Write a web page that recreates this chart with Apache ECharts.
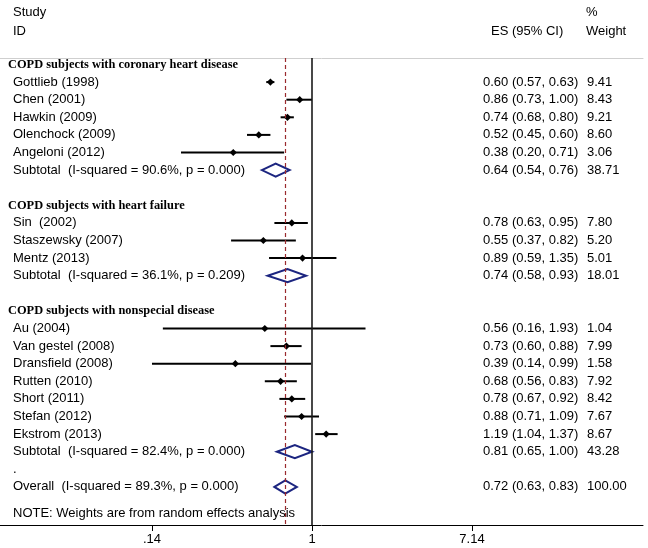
<!DOCTYPE html>
<html><head><meta charset="utf-8">
<script src="https://cdn.jsdelivr.net/npm/echarts@6/dist/echarts.min.js"></script>
<style>html,body{margin:0;padding:0;background:#fff}#c{width:648px;height:548px}</style>
</head><body><div id="c"></div><script>
// ---------- data ----------
const rowLabels = [
  'COPD subjects with coronary heart disease',
  'Gottlieb (1998)', 'Chen (2001)', 'Hawkin (2009)', 'Olenchock (2009)', 'Angeloni (2012)',
  'Subtotal  (I-squared = 90.6%, p = 0.000)',
  'COPD subjects with heart failure',
  'Sin  (2002)', 'Staszewsky (2007)', 'Mentz (2013)',
  'Subtotal  (I-squared = 36.1%, p = 0.209)',
  'COPD subjects with nonspecial disease',
  'Au (2004)', 'Van gestel (2008)', 'Dransfield (2008)', 'Rutten (2010)', 'Short (2011)', 'Stefan (2012)', 'Ekstrom (2013)',
  'Subtotal  (I-squared = 82.4%, p = 0.000)',
  '.',
  'Overall  (I-squared = 89.3%, p = 0.000)'
];
const rowKinds = [
  'group', 'study','study','study','study','study', 'pooled',
  'group', 'study','study','study', 'pooled',
  'group', 'study','study','study','study','study','study','study', 'pooled',
  'blank', 'pooled'
];
const rowIndex = [0, 1,2,3,4,5, 6, 8, 9,10,11, 12, 14, 15,16,17,18,19,20,21, 22, 23, 24];
const rowES =  [null, 0.60,0.86,0.74,0.52,0.38, 0.64, null, 0.78,0.55,0.89, 0.74, null, 0.56,0.73,0.39,0.68,0.78,0.88,1.19, 0.81, null, 0.72];
const rowLo =  [null, 0.57,0.73,0.68,0.45,0.20, 0.54, null, 0.63,0.37,0.59, 0.58, null, 0.16,0.60,0.14,0.56,0.67,0.71,1.04, 0.65, null, 0.63];
const rowHi =  [null, 0.63,1.00,0.80,0.60,0.71, 0.76, null, 0.95,0.82,1.35, 0.93, null, 1.93,0.88,0.99,0.83,0.92,1.09,1.37, 1.00, null, 0.83];
const rowWeight = [null, 9.41,8.43,9.21,8.60,3.06, 38.71, null, 7.80,5.20,5.01, 18.01, null, 1.04,7.99,1.58,7.92,8.42,7.67,8.67, 43.28, null, 100.00];
const overallES = 0.72;
const tickValues = [0.14, 1, 7.14];
const tickLabels = ['.14', '1', '7.14'];
const headerTexts = [['Study', 'ID'], ['', 'ES (95% CI)'], ['%', 'Weight']];
const noteText = 'NOTE: Weights are from random effects analysis';

// ---------- layout ----------
const W = 648, H = 548;
const row0Y = 64.5, pitch = 17.6;
const plotTop = 58, axisY = 525, plotRight = 643;
const oneX = 312, pxPerDecade = 187.4;
const xMin = Math.pow(10, (0 - oneX) / pxPerDecade);
const xMax = Math.pow(10, (plotRight - oneX) / pxPerDecade);
const rowOf = y => (y - row0Y) / pitch;
const colX = { label: 13, group: 8, es: 483, wt: 587, esHead: 491, wtHead: 586 };
const headRows = [rowOf(12.5), rowOf(31)];
const noteRow = rowOf(513);

const sansFamily = '"Liberation Sans", Arial, Helvetica, sans-serif';
const serifFamily = '"Liberation Serif", "Times New Roman", serif';

// text items
const textItems = [];
headerTexts.forEach((pair, ci) => {
  const x = ci === 0 ? colX.label : (ci === 1 ? colX.esHead : colX.wtHead);
  pair.forEach((t, k) => { if (t) textItems.push({ x, r: headRows[k], text: t, kind: 'text' }); });
});
rowLabels.forEach((lab, i) => {
  const k = rowKinds[i];
  textItems.push({ x: k === 'group' ? colX.group : colX.label, r: rowIndex[i], text: lab, kind: k === 'group' ? 'group' : 'text' });
  if (rowES[i] != null) {
    textItems.push({ x: colX.es, r: rowIndex[i], text: rowES[i].toFixed(2) + ' (' + rowLo[i].toFixed(2) + ', ' + rowHi[i].toFixed(2) + ')', kind: 'text' });
    textItems.push({ x: colX.wt, r: rowIndex[i], text: rowWeight[i].toFixed(2), kind: 'text' });
  }
});
textItems.push({ x: colX.label, r: noteRow, text: noteText, kind: 'text' });

const studyData = [], pooledData = [];
rowKinds.forEach((k, i) => {
  if (k === 'study') studyData.push([rowLo[i], rowHi[i], rowES[i], rowIndex[i]]);
  if (k === 'pooled') pooledData.push([rowLo[i], rowHi[i], rowES[i], rowIndex[i]]);
});

const chart = echarts.init(document.getElementById('c'), null, { renderer: 'canvas' });
chart.setOption({
  animation: false,
  backgroundColor: '#fff',
  grid: [
    { left: 0, top: plotTop, width: plotRight, height: axisY - plotTop },
    { left: 0, top: 0, width: W, height: H }
  ],
  xAxis: [
    {
      type: 'log', logBase: 10, gridIndex: 0, min: xMin, max: xMax, position: 'bottom',
      axisLine: { show: true, onZero: false, lineStyle: { color: '#000', width: 1 } },
      axisTick: { show: true, customValues: tickValues, length: 6, lineStyle: { color: '#000', width: 1 } },
      axisLabel: {
        show: true, customValues: tickValues, margin: 8, color: '#000', fontSize: 13, fontFamily: sansFamily,
        formatter: v => { const j = tickValues.findIndex(t => Math.abs(t - v) < 1e-6); return j >= 0 ? tickLabels[j] : ''; }
      },
      splitLine: { show: false }
    },
    { type: 'value', gridIndex: 1, min: 0, max: W, show: false },
    {
      type: 'value', gridIndex: 0, min: 0, max: 1, position: 'top',
      axisLine: { show: true, onZero: false, lineStyle: { color: '#cfcfcf', width: 1 } },
      axisTick: { show: false }, axisLabel: { show: false }, splitLine: { show: false }
    }
  ],
  yAxis: [
    { type: 'value', gridIndex: 0, inverse: true, min: rowOf(plotTop), max: rowOf(axisY), show: false },
    { type: 'value', gridIndex: 1, inverse: true, min: rowOf(0), max: rowOf(H), show: false }
  ],
  series: [
    {
      type: 'custom', xAxisIndex: 0, yAxisIndex: 0, clip: false,
      data: studyData,
      encode: { x: [0, 1, 2], y: 3 },
      renderItem(params, api) {
        const r = api.value(3);
        const a = api.coord([api.value(0), r]);
        const b = api.coord([api.value(1), r]);
        const e = api.coord([api.value(2), r]);
        const s = 3.6;
        return { type: 'group', children: [
          { type: 'line', shape: { x1: a[0], y1: a[1], x2: b[0], y2: b[1] }, style: { stroke: '#000', lineWidth: 2 } },
          { type: 'polygon', shape: { points: [[e[0] - s, e[1]], [e[0], e[1] - s], [e[0] + s, e[1]], [e[0], e[1] + s]] }, style: { fill: '#000' } }
        ] };
      },
      markLine: {
        silent: true, symbol: 'none', label: { show: false },
        data: [
          { xAxis: 1, lineStyle: { color: '#1a1a1a', width: 1.6, type: 'solid' } },
          { xAxis: overallES, lineStyle: { color: '#9a2a2e', width: 1.2, type: [4, 3] } }
        ]
      },
      z: 3
    },
    {
      type: 'custom', xAxisIndex: 0, yAxisIndex: 0, clip: false,
      data: pooledData,
      encode: { x: [0, 1, 2], y: 3 },
      renderItem(params, api) {
        const r = api.value(3);
        const a = api.coord([api.value(0), r]);
        const b = api.coord([api.value(1), r]);
        const e = api.coord([api.value(2), r]);
        const h = 6.6;
        return { type: 'polygon',
          shape: { points: [[a[0], a[1]], [e[0], e[1] - h], [b[0], b[1]], [e[0], e[1] + h]] },
          style: { fill: 'rgba(255,255,255,0)', stroke: '#1c2580', lineWidth: 2, lineJoin: 'miter' } };
      },
      z: 4
    },
    {
      type: 'custom', xAxisIndex: 1, yAxisIndex: 1, clip: false,
      data: textItems.map(t => [t.x, t.r]),
      renderItem(params, api) {
        const t = textItems[params.dataIndex];
        const p = api.coord([api.value(0), api.value(1)]);
        const grp = t.kind === 'group';
        return { type: 'text', x: p[0], y: p[1],
          style: { text: t.text, fill: '#000', align: 'left', verticalAlign: 'middle',
            fontSize: grp ? 12.4 : 13, fontWeight: grp ? 'bold' : 'normal', fontFamily: grp ? serifFamily : sansFamily } };
      },
      z: 5
    }
  ]
});
</script></body></html>
